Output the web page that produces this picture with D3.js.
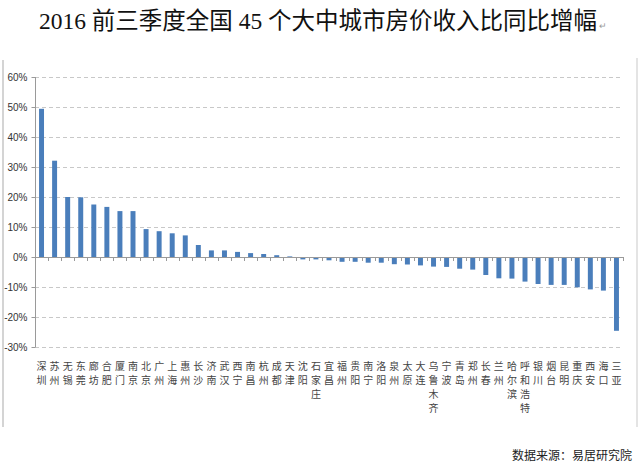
<!DOCTYPE html>
<html><head><meta charset="utf-8">
<script src="https://cdn.jsdelivr.net/npm/d3@7"></script>
<style>body{margin:0;background:#fff}</style>
</head><body>
<svg id="c" width="640" height="470"></svg>
<script>
const categories = ["深圳","苏州","无锡","东莞","廊坊","合肥","厦门","南京","北京","广州","上海","惠州","长沙","济南","武汉","西宁","南昌","杭州","成都","天津","沈阳","石家庄","宜昌","福州","贵阳","南宁","洛阳","泉州","太原","大连","乌鲁木齐","宁波","青岛","郑州","长春","兰州","哈尔滨","呼和浩特","银川","烟台","昆明","重庆","西安","海口","三亚"];
const values = [49.4,32.1,20.0,19.9,17.5,16.7,15.3,15.3,9.3,8.6,7.9,7.2,4.0,2.2,2.2,1.7,1.3,1.0,0.6,0.2,-0.8,-0.8,-1.1,-1.6,-1.6,-1.9,-1.9,-2.4,-2.5,-2.8,-3.2,-3.3,-3.9,-4.2,-6.0,-7.1,-7.2,-8.2,-9.0,-9.3,-9.3,-10.1,-10.8,-11.2,-24.6];
const yTicks = [60,50,40,30,20,10,0,-10,-20,-30];
const title = "2016 前三季度全国 45 个大中城市房价收入比同比增幅";
const source = "数据来源：易居研究院";

const svg = d3.select("#c");
const x = d3.scaleBand().domain(categories).range([35, 623]).paddingInner(0.62).paddingOuter(0.31);
const y = d3.scaleLinear().domain([-30, 60]).range([347, 77]);

// frame lines
svg.append("line").attr("x1",3).attr("x2",3).attr("y1",60).attr("y2",427).attr("stroke","#d4d4d4").attr("stroke-width",2);
svg.append("line").attr("x1",637).attr("x2",637).attr("y1",58).attr("y2",427).attr("stroke","#e4e4e4").attr("stroke-width",2);

// title
svg.append("text").attr("x",318).attr("y",29).attr("text-anchor","middle")
  .attr("font-family","'Liberation Serif','Noto Sans CJK SC',serif").attr("font-size",23.5).attr("fill","#111")
  .text(title);
svg.append("text").attr("x",599).attr("y",29).attr("font-size",9).attr("fill","#999").text("↵");

// gridlines
svg.append("g").selectAll("line").data(yTicks.filter(d=>d!==0)).join("line")
  .attr("x1",35).attr("x2",623).attr("y1",d=>y(d)+0.5).attr("y2",d=>y(d)+0.5)
  .attr("stroke","#c8c8c8").attr("stroke-dasharray","4,3");

// y axis
const yAxis = d3.axisLeft(y).tickValues(yTicks).tickFormat(d=>d+"%").tickSize(4).tickPadding(4);
const ga = svg.append("g").attr("transform","translate(35.5,0)").call(yAxis);
ga.select(".domain").attr("stroke","#9a9a9a").attr("d","M0,"+y(60)+"V"+y(-30));
ga.selectAll(".tick line").attr("stroke","#9a9a9a");
ga.selectAll(".tick text").attr("font-family","'Liberation Sans',Arial,sans-serif").attr("font-size",10).attr("fill","#333");

// bars
svg.append("g").selectAll("rect").data(values).join("rect")
  .attr("x",(d,i)=>x(categories[i]))
  .attr("width",x.bandwidth())
  .attr("y",d=>y(Math.max(0,d)))
  .attr("height",d=>Math.abs(y(d)-y(0)))
  .attr("fill","#4a7ebb");

// zero axis with ticks between categories
svg.append("line").attr("x1",35).attr("x2",623).attr("y1",y(0)+0.5).attr("y2",y(0)+0.5).attr("stroke","#9a9a9a");
const step = x.step();
svg.append("g").selectAll("line").data(d3.range(categories.length+1)).join("line")
  .attr("x1",i=>Math.round(35+i*step)+0.5).attr("x2",i=>Math.round(35+i*step)+0.5)
  .attr("y1",y(0)).attr("y2",y(0)+4).attr("stroke","#9a9a9a");

// category labels (vertical, one char per line)
const lab = svg.append("g").attr("font-family","'Noto Sans CJK SC',sans-serif").attr("font-size",10).attr("fill","#444");
categories.forEach((c,i)=>{
  const cx = x(c)+x.bandwidth()/2;
  Array.from(c).forEach((ch,j)=>{
    lab.append("text").attr("x",cx).attr("y",370+j*14).attr("text-anchor","middle").text(ch);
  });
});

// source
svg.append("text").attr("x",632).attr("y",460).attr("text-anchor","end")
  .attr("font-family","'Noto Sans CJK SC',serif").attr("font-size",12).attr("fill","#222").text(source);
</script>
</body></html>
